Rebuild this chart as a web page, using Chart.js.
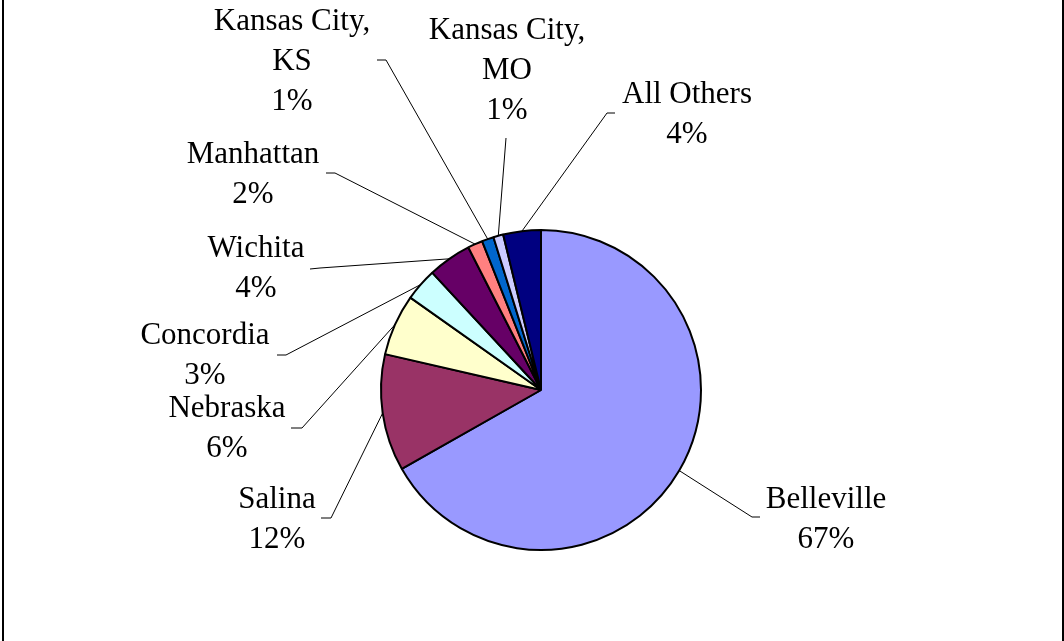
<!DOCTYPE html>
<html>
<head>
<meta charset="utf-8">
<script src="https://cdn.jsdelivr.net/npm/chart.js@4/dist/chart.umd.min.js"></script>
<style>
  html, body { margin: 0; padding: 0; background: #ffffff; }
  #wrap { width: 1064px; height: 641px; }
</style>
</head>
<body>
<div id="wrap"><canvas id="c" width="1064" height="641"></canvas></div>
<script>
// ---- data ----
const categories = ["Belleville", "Salina", "Nebraska", "Concordia", "Wichita", "Manhattan", "Kansas City, KS", "Kansas City, MO", "All Others"];
const shares = [66.8, 11.8, 6.2, 3.3, 4.4, 1.5, 1.2, 1.0, 3.8];
const sliceColors = ["#9999FF", "#993366", "#FFFFCC", "#CCFFFF", "#660066", "#FF8080", "#0066CC", "#CCCCFF", "#000080"];

// label placement (offsets from pie centre): text centre x, first baseline y, leader elbow, leader end
const labelLayout = [
  { tx: 285, ty: 118, ex: 211, ey: 127, fx: 219, fy: 127 },
  { tx: -264, ty: 118, ex: -210, ey: 128, fx: -220, fy: 128 },
  { tx: -314, ty: 27, ex: -239, ey: 38, fx: -250, fy: 38 },
  { tx: -336, ty: -46, ex: -255, ey: -35, fx: -264, fy: -35 },
  { tx: -285, ty: -133, ex: -221, ey: -122, fx: -231, fy: -121 },
  { tx: -288, ty: -227, ex: -206, ey: -217, fx: -215, fy: -217 },
  { tx: -249, ty: -360, ex: -155, ey: -330, fx: -164, fy: -330 },
  { tx: -34, ty: -351, ex: -35, ey: -252, fx: -35, fy: -252 },
  { tx: 146, ty: -287, ex: 66, ey: -277, fx: 74, fy: -277 }
];

const total = shares.reduce((a, b) => a + b, 0);

function labelLines(i) {
  const name = categories[i];
  const cut = name.indexOf(", ");
  const parts = cut >= 0 ? [name.slice(0, cut + 1), name.slice(cut + 2)] : [name];
  parts.push(Math.round(shares[i] / total * 100) + "%");
  return parts;
}

const framePlugin = {
  id: 'frame',
  beforeDraw(chart) {
    const ctx = chart.ctx;
    ctx.save();
    ctx.fillStyle = '#ffffff';
    ctx.fillRect(0, 0, chart.width, chart.height);
    ctx.fillStyle = '#000000';
    ctx.fillRect(2, 0, 2, chart.height);
    ctx.fillRect(1062, 0, 2, chart.height);
    ctx.restore();
  }
};

const labelPlugin = {
  id: 'pieLabels',
  afterDatasetsDraw(chart) {
    const ctx = chart.ctx;
    const meta = chart.getDatasetMeta(0);
    ctx.save();
    ctx.font = '31px "Liberation Serif", "Times New Roman", serif';
    ctx.textAlign = 'center';
    ctx.textBaseline = 'alphabetic';
    meta.data.forEach((arc, i) => {
      const p = arc.getProps(['x', 'y', 'startAngle', 'endAngle', 'outerRadius'], true);
      const mid = (p.startAngle + p.endAngle) / 2;
      const sx = p.x + Math.cos(mid) * p.outerRadius;
      const sy = p.y + Math.sin(mid) * p.outerRadius;
      const L = labelLayout[i];
      ctx.strokeStyle = '#000000';
      ctx.lineWidth = 1;
      ctx.beginPath();
      ctx.moveTo(sx, sy);
      ctx.lineTo(p.x + L.ex, p.y + L.ey);
      ctx.lineTo(p.x + L.fx, p.y + L.fy);
      ctx.stroke();
      ctx.fillStyle = '#000000';
      labelLines(i).forEach((t, k) => {
        ctx.fillText(t, p.x + L.tx, p.y + L.ty + k * 40);
      });
    });
    ctx.restore();
  }
};

new Chart(document.getElementById('c'), {
  type: 'pie',
  data: {
    labels: categories,
    datasets: [{
      data: shares,
      backgroundColor: sliceColors,
      borderColor: '#000000',
      borderWidth: 2
    }]
  },
  options: {
    responsive: false,
    animation: false,
    radius: 160,
    layout: { padding: { left: 381, right: 363, top: 230, bottom: 91 } },
    plugins: {
      legend: { display: false },
      tooltip: { enabled: false }
    }
  },
  plugins: [framePlugin, labelPlugin]
});
</script>
</body>
</html>
